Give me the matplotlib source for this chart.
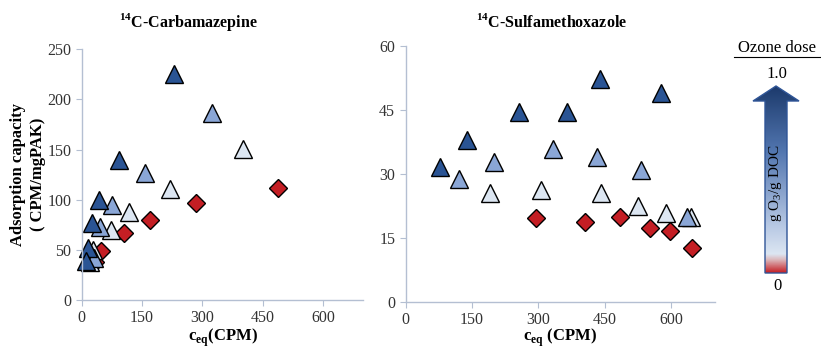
import numpy as np
import matplotlib
matplotlib.use("Agg")
import matplotlib.pyplot as plt
from matplotlib.colors import LinearSegmentedColormap
from matplotlib.patches import Polygon

plt.rcParams['font.family'] = 'Liberation Serif'
plt.rcParams['mathtext.fontset'] = 'custom'
plt.rcParams['mathtext.rm'] = 'Liberation Serif'
plt.rcParams['mathtext.bf'] = 'Liberation Serif:bold'

# ---- data: carbamazepine (x = c_eq CPM, y = adsorption capacity) ----
cbz_dark_x = [230, 93, 42, 25, 15, 10]
cbz_dark_y = [225, 140, 100, 77, 52, 39]
cbz_mid_x = [323, 157, 75, 45, 30]
cbz_mid_y = [187, 127, 95, 73, 42]
cbz_light_x = [400, 220, 118, 72, 27, 20]
cbz_light_y = [151, 111, 88, 70, 50, 38]
cbz_red_x = [487, 283, 170, 105, 48, 33]
cbz_red_y = [112, 97, 80, 67, 49, 38]

# ---- data: sulfamethoxazole ----
smx_dark_x = [77, 138, 257, 365, 440, 578]
smx_dark_y = [31.6, 38, 44.5, 44.5, 52.2, 49]
smx_mid_x = [120, 200, 334, 432, 532, 637]
smx_mid_y = [28.8, 32.8, 35.7, 34, 31, 19.9]
smx_light_x = [190, 306, 443, 526, 589, 646]
smx_light_y = [25.5, 26.2, 25.5, 22.5, 20.7, 19.9]
smx_red_x = [295, 405, 484, 552, 599, 648]
smx_red_y = [19.7, 18.6, 19.9, 17.2, 16.5, 12.7]

x_ticks = [0, 150, 300, 450, 600]
cbz_yticks = [0, 50, 100, 150, 200, 250]
smx_yticks = [0, 15, 30, 45, 60]

c_dark = '#2a5494'
c_mid = '#8aa6d6'
c_light = '#dce6f2'
c_red = '#c41e24'
spine_col = '#b4bfd2'

fig = plt.figure(figsize=(8.21, 3.5), dpi=100)
ax1 = fig.add_axes([0.0995, 0.143, 0.343, 0.716])
ax2 = fig.add_axes([0.494, 0.138, 0.377, 0.731])


def scatter_set(ax, dx, dy, mx, my, lx, ly, rx, ry):
    kw = dict(linestyle='none', markeredgecolor='black', markeredgewidth=1.0, clip_on=False)
    ax.plot(rx, ry, marker='D', markersize=9.5, color=c_red, **kw)
    ax.plot(lx, ly, marker='^', markersize=12.5, color=c_light, **kw)
    ax.plot(mx, my, marker='^', markersize=12.5, color=c_mid, **kw)
    ax.plot(dx, dy, marker='^', markersize=12.5, color=c_dark, **kw)


scatter_set(ax1, cbz_dark_x, cbz_dark_y, cbz_mid_x, cbz_mid_y,
            cbz_light_x, cbz_light_y, cbz_red_x, cbz_red_y)
scatter_set(ax2, smx_dark_x, smx_dark_y, smx_mid_x, smx_mid_y,
            smx_light_x, smx_light_y, smx_red_x, smx_red_y)

for ax, yt in [(ax1, cbz_yticks), (ax2, smx_yticks)]:
    ax.set_xlim(0, 700)
    ax.set_ylim(yt[0], yt[-1])
    ax.set_xticks(x_ticks)
    ax.set_yticks(yt)
    for s in ['top', 'right']:
        ax.spines[s].set_visible(False)
    for s in ['left', 'bottom']:
        ax.spines[s].set_color(spine_col)
        ax.spines[s].set_linewidth(1)
    ax.tick_params(direction='out', length=4, color=spine_col, labelsize=11.5,
                   labelcolor='#333333')
    ax.set_facecolor('none')

ax1.set_xlabel(r'c$_{\mathbf{eq}}$(CPM)', fontsize=12, fontweight='bold', labelpad=0)
ax2.set_xlabel(r'c$_{\mathbf{eq}}$ (CPM)', fontsize=12, fontweight='bold', labelpad=-1)
ax1.set_ylabel('Adsorption capacity\n( CPM/mgPAK)', fontsize=12, fontweight='bold',
               linespacing=1.3, labelpad=1)

fig.text(188 / 821, 1 - 22 / 350, r'$^{\mathbf{14}}$C-Carbamazepine', ha='center',
         va='center', fontsize=11.5, fontweight='bold')
fig.text(552 / 821, 1 - 22 / 350, r'$^{\mathbf{14}}$C-Sulfamethoxazole', ha='center',
         va='center', fontsize=11.5, fontweight='bold')

# ---- ozone dose arrow legend (pixel coordinates) ----
ax3 = fig.add_axes([0, 0, 1, 1])
ax3.set_xlim(0, 821)
ax3.set_ylim(350, 0)
ax3.axis('off')

cmap = LinearSegmentedColormap.from_list(
    'ozone', [(0.0, '#1c3a6c'), (0.35, '#5276b0'), (0.75, '#b8c9e4'),
              (0.9, '#dce6f2'), (0.93, '#dcb8bc'), (1.0, '#c41e24')])
grad = np.linspace(0, 1, 256).reshape(-1, 1)
arrow_pts = [(776, 86), (799, 101), (787, 101), (787, 273),
             (765, 273), (765, 101), (753, 101)]
im = ax3.imshow(grad, cmap=cmap, extent=[750, 802, 273, 86], aspect='auto')
poly = Polygon(arrow_pts, closed=True, facecolor='none', edgecolor='#2f5597', linewidth=1)
ax3.add_patch(poly)
im.set_clip_path(poly)

ax3.text(777, 48, 'Ozone dose', ha='center', va='center', fontsize=12)
ax3.plot([734, 820], [57, 57], color='black', linewidth=0.8)
ax3.text(777, 74, '1.0', ha='center', va='center', fontsize=12)
ax3.text(777, 286, '0', ha='center', va='center', fontsize=12)
ax3.text(776, 183, r'g O$_3$/g DOC', ha='center', va='center', rotation=90,
         fontsize=11)

fig.savefig('out.png', dpi=100)
